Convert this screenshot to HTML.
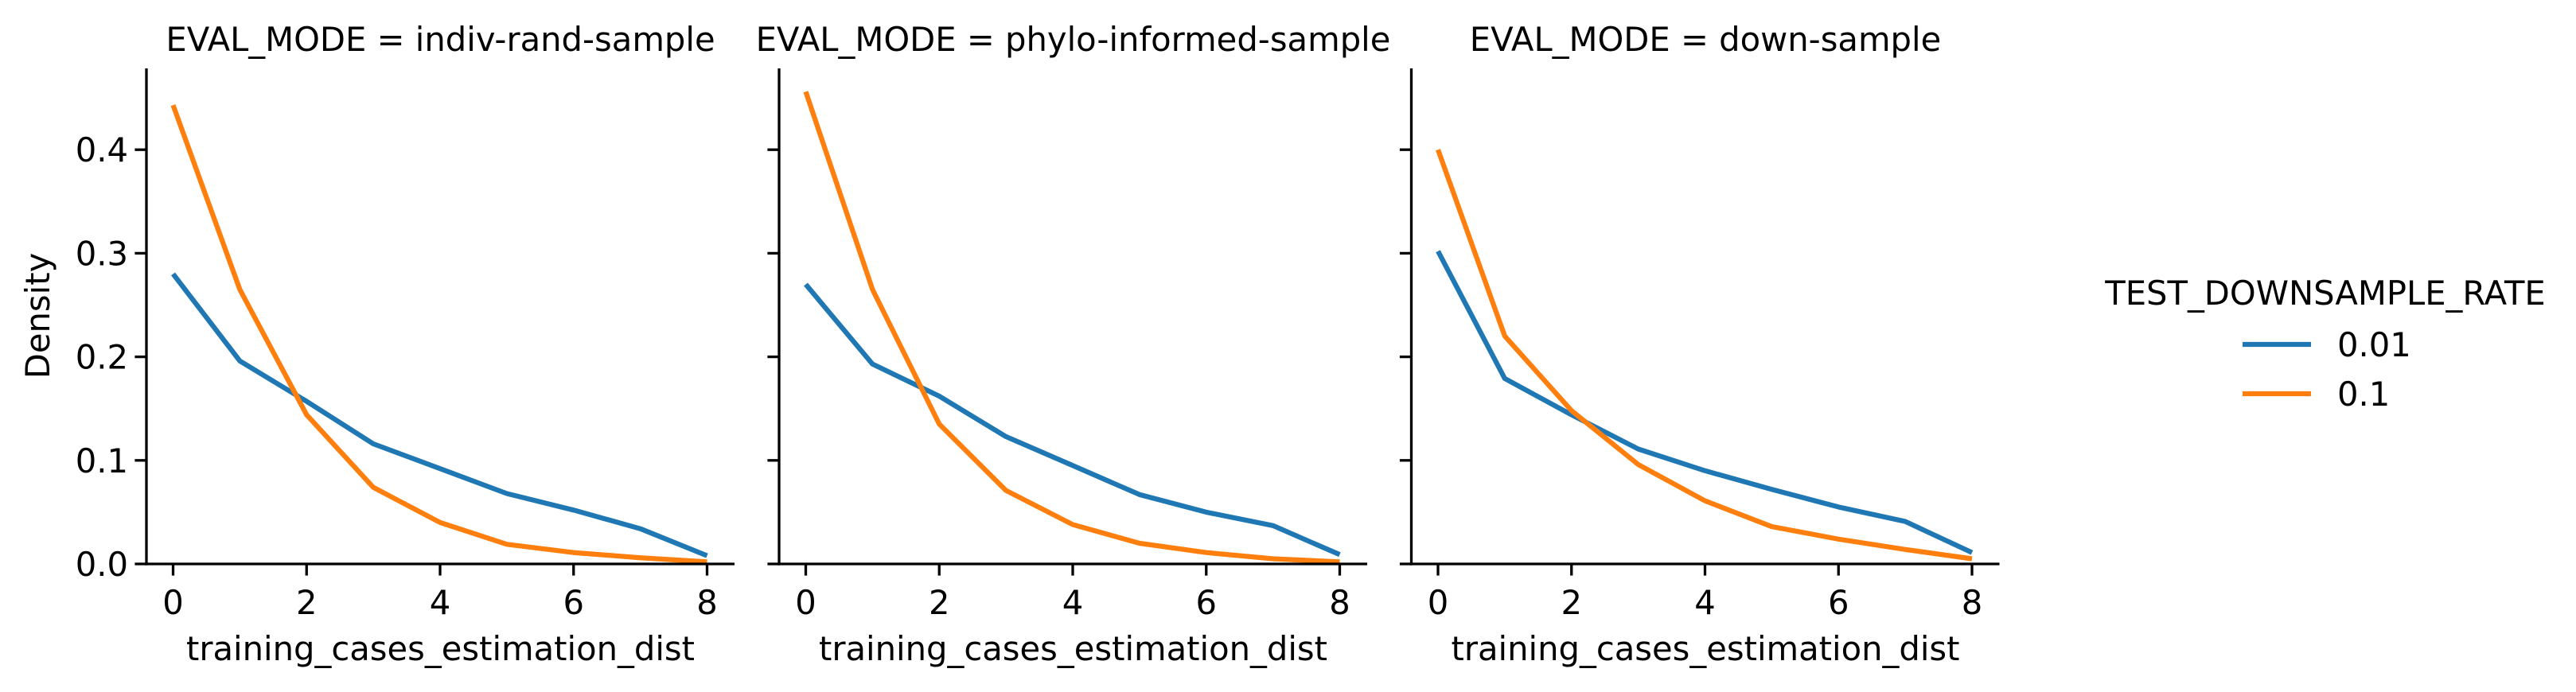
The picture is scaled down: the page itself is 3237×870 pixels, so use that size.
<!DOCTYPE html>
<html><head><meta charset="utf-8"><style>
html,body{margin:0;padding:0;background:#fff;}
svg{display:block;font-family:"DejaVu Sans","Liberation Sans",sans-serif;}
</style></head><body>
<svg id="chart" width="3237" height="870" viewBox="0 0 3237 870" xmlns="http://www.w3.org/2000/svg">
<rect width="3237" height="870" fill="#fff"/>
<text x="0" y="0" font-size="41.7" text-anchor="middle" transform="translate(62,397) rotate(-90)">Density</text>
<g>
<text x="2922" y="383" font-size="41.7" text-anchor="middle">TEST_DOWNSAMPLE_RATE</text>
<line x1="2818" y1="433" x2="2904" y2="433" stroke="#1f77b4" stroke-width="6.25"/>
<text x="2937" y="448" font-size="41.7">0.01</text>
<line x1="2818" y1="495" x2="2904" y2="495" stroke="#ff7f0e" stroke-width="6.25"/>
<text x="2937" y="510" font-size="41.7">0.1</text>
</g>
</svg>
<script>
const panelTitles = ["EVAL_MODE = indiv-rand-sample","EVAL_MODE = phylo-informed-sample","EVAL_MODE = down-sample"];
const xValues = [0,1,2,3,4,5,6,7,8];
const xTicks = [0,2,4,6,8];
const yTicks = [0.0,0.1,0.2,0.3,0.4];
const yTickLabels = ["0.0","0.1","0.2","0.3","0.4"];
const blueP1 = [0.280,0.196,0.157,0.116,0.092,0.068,0.052,0.034,0.008];
const orangeP1 = [0.443,0.265,0.144,0.074,0.040,0.019,0.011,0.006,0.002];
const blueP2 = [0.270,0.193,0.162,0.123,0.095,0.067,0.050,0.037,0.009];
const orangeP2 = [0.456,0.265,0.135,0.071,0.038,0.020,0.011,0.005,0.002];
const blueP3 = [0.302,0.179,0.144,0.111,0.090,0.072,0.055,0.041,0.011];
const orangeP3 = [0.400,0.220,0.148,0.096,0.061,0.036,0.024,0.014,0.005];
const seriesBlue = [blueP1,blueP2,blueP3];
const seriesOrange = [orangeP1,orangeP2,orangeP3];

const svg = document.getElementById('chart');
const NS = "http://www.w3.org/2000/svg";
const panelLefts = [184,979,1773.5];
const panelW = 739, axTop = 86, axBottom = 709, yMax = 0.4785;
function mk(tag, attrs){const e=document.createElementNS(NS,tag);for(const k in attrs)e.setAttribute(k,attrs[k]);return e;}
function yPos(v){return axBottom-(v/yMax)*(axBottom-axTop);}
panelTitles.forEach((t,i)=>{
  const L = panelLefts[i];
  const xPos = v => L+33.5+v*(671/8);
  const g = mk('g',{});
  
  
  svg.appendChild(g);
  const title = mk('text',{x:L+panelW/2,y:64,'font-size':41.7,'text-anchor':'middle'});
  
  
  title.textContent = t; g.appendChild(title);
  const xl = mk('text',{x:L+panelW/2,y:830,'font-size':41.7,'text-anchor':'middle'});
  
  
  xl.textContent='training_cases_estimation_dist'; g.appendChild(xl);
  yTicks.forEach((v,j)=>{
    const tk = mk('line',{x1:L-14.6,x2:L,y1:yPos(v),y2:yPos(v),stroke:'#000','stroke-width':3.3});
    
    
    g.appendChild(tk);
    if(i===0){
      const lb = mk('text',{x:L-23,y:yPos(v)+15,'font-size':41.7,'text-anchor':'end'});
      
      
      lb.textContent=yTickLabels[j]; g.appendChild(lb);
    }
  });
  xTicks.forEach(v=>{
    const tk = mk('line',{x1:xPos(v),x2:xPos(v),y1:axBottom,y2:axBottom+14.6,stroke:'#000','stroke-width':3.3});
    
    
    g.appendChild(tk);
    const lb = mk('text',{x:xPos(v),y:772,'font-size':41.7,'text-anchor':'middle'});
    
    
    lb.textContent=String(v); g.appendChild(lb);
  });
  [[seriesBlue[i],'#1f77b4','line-0.01'],[seriesOrange[i],'#ff7f0e','line-0.1']].forEach(([d,c,n])=>{
    const pts = d.map((v,k)=>xPos(xValues[k]).toFixed(1)+','+yPos(v).toFixed(1)).join(' ');
    const pl = mk('polyline',{points:pts,fill:'none',stroke:c,'stroke-width':6.25,'stroke-linejoin':'round'});
    
    
    g.appendChild(pl);
  });
  const sp1 = mk('line',{x1:L,x2:L,y1:axTop,y2:axBottom+1.6,stroke:'#000','stroke-width':3.3});
  
  
  g.appendChild(sp1);
  const sp2 = mk('line',{x1:L-1.6,x2:L+panelW,y1:axBottom,y2:axBottom,stroke:'#000','stroke-width':3.3});
  
  
  g.appendChild(sp2);
});
</script>
</body></html>
